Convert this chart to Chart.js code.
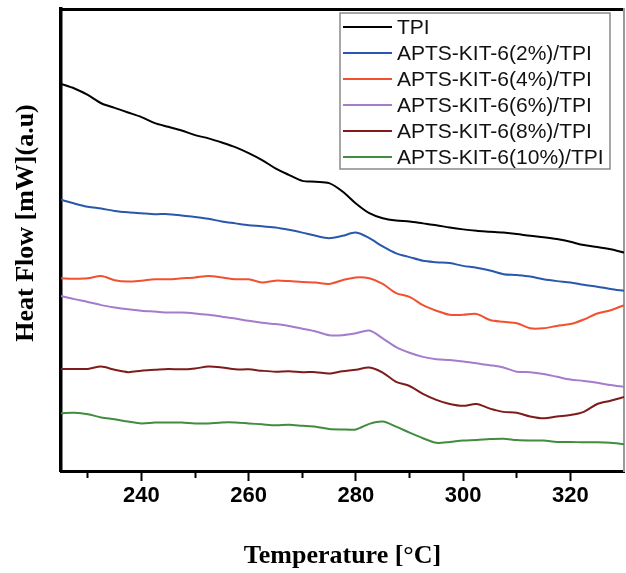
<!DOCTYPE html>
<html>
<head>
<meta charset="utf-8">
<title>DSC - TPI / APTS-KIT-6</title>
<script src="https://cdn.jsdelivr.net/npm/chart.js@4.4.1/dist/chart.umd.min.js"></script>
<style>
  html, body { margin: 0; padding: 0; background: #fff; }
  canvas { display: block; }
</style>
</head>
<body>
<canvas id="chart-dsc" width="626" height="573"></canvas>
<script>
// DSC curves (heat flow, arbitrary units, offset per sample) vs temperature

const temperaturas = [
  225, 227.5, 230, 232.5, 235, 237.5, 240, 242.5, 245, 247.5,
  250, 252.5, 255, 257.5, 260, 262.5, 265, 267.5, 270, 272.5,
  275, 277.5, 280, 282.5, 285, 287.5, 290, 292.5, 295, 297.5,
  300, 302.5, 305, 307.5, 310, 312.5, 315, 317.5, 320, 322.5,
  325, 327.5, 330
];

const fluxoTPI = [
  83.8, 82.8, 81.4, 79.6, 78.6, 77.6, 76.6, 75.3, 74.5, 73.7,
  72.7, 72.0, 71.1, 70.1, 68.8, 67.3, 65.5, 64.1, 62.8, 62.6,
  62.3, 60.5, 57.9, 55.8, 54.7, 54.2, 54.0, 53.6, 53.2, 52.7,
  52.3, 52.0, 51.8, 51.6, 51.3, 50.9, 50.6, 50.2, 49.6, 48.9,
  48.5, 48.0, 47.3
];

const fluxo2 = [
  58.7, 57.9, 57.2, 56.8, 56.3, 56.0, 55.8, 55.6, 55.6, 55.3,
  55.0, 54.6, 54.0, 53.6, 53.2, 53.0, 52.7, 52.2, 51.6, 50.9,
  50.4, 50.9, 51.6, 50.4, 48.6, 47.1, 46.3, 45.5, 45.2, 45.0,
  44.4, 44.0, 43.4, 42.6, 42.4, 42.1, 41.5, 41.1, 40.8, 40.3,
  39.9, 39.4, 39.0
];

const fluxo4 = [
  41.7, 41.6, 41.7, 42.2, 41.3, 41.0, 41.2, 41.5, 41.5, 41.7,
  41.9, 42.2, 41.9, 41.5, 41.5, 40.8, 41.2, 41.1, 40.9, 40.8,
  40.5, 41.3, 41.9, 41.7, 40.5, 38.5, 37.7, 35.9, 34.7, 33.8,
  33.8, 34.0, 32.7, 32.3, 32.0, 30.9, 30.9, 31.4, 31.8, 32.8,
  34.1, 34.8, 35.9
];

const fluxo6 = [
  37.9, 37.2, 36.6, 35.9, 35.4, 35.0, 34.7, 34.5, 34.3, 34.3,
  34.1, 33.8, 33.4, 33.0, 32.5, 32.1, 31.8, 31.4, 30.8, 30.2,
  29.4, 29.4, 29.8, 30.4, 28.7, 26.8, 25.6, 24.7, 24.2, 24.0,
  23.7, 23.3, 22.9, 22.4, 21.5, 21.4, 21.0, 20.4, 19.8, 19.5,
  19.1, 18.6, 18.2
];

const fluxo8 = [
  22.1, 22.1, 22.1, 22.6, 21.9, 21.4, 21.7, 21.9, 22.1, 22.0,
  22.2, 22.6, 22.4, 22.0, 22.0, 21.7, 21.5, 21.6, 21.4, 21.4,
  21.1, 21.6, 21.9, 22.4, 21.3, 19.3, 18.4, 16.7, 15.4, 14.5,
  14.1, 14.5, 13.5, 12.8, 12.6, 11.8, 11.4, 11.8, 12.1, 12.8,
  14.5, 15.2, 16.0
];

const fluxo10 = [
  12.5, 12.6, 12.3, 11.6, 11.2, 10.7, 10.3, 10.5, 10.5, 10.5,
  10.3, 10.3, 10.5, 10.5, 10.3, 10.1, 9.9, 10.0, 9.8, 9.6,
  9.1, 9.0, 9.0, 10.2, 10.7, 9.6, 8.3, 7.1, 6.1, 6.3,
  6.6, 6.7, 6.9, 7.0, 6.7, 6.6, 6.6, 6.3, 6.3, 6.2,
  6.2, 6.1, 5.8
];

const nomes = [
  "TPI",
  "APTS-KIT-6(2%)/TPI",
  "APTS-KIT-6(4%)/TPI",
  "APTS-KIT-6(6%)/TPI",
  "APTS-KIT-6(8%)/TPI",
  "APTS-KIT-6(10%)/TPI"
];
const series = [fluxoTPI, fluxo2, fluxo4, fluxo6, fluxo8, fluxo10];
const cores = ["#000000", "#2857ad", "#f2502e", "#a47ccb", "#7d1c1a", "#418c3e"];

const tituloX = "Temperature [°C]";
const tituloY = "Heat Flow [mW](a.u)";

function montarDatasets() {
  return series.map((valores, i) => ({
    label: nomes[i],
    data: temperaturas.map((t, k) => ({ x: t, y: valores[k] })),
    borderColor: cores[i],
    backgroundColor: cores[i],
    borderWidth: 2,
    pointRadius: 0,
    tension: 0.3,
    fill: false,
    xAxisID: "x",
    yAxisID: "y"
  }));
}

// legend box in the upper right of the plot, one line sample per series
const legendaCaixa = {
  id: "legendaCaixa",
  afterDraw(chart) {
    const ctx = chart.ctx;
    const area = chart.chartArea;
    const esq = area.left + 279;
    const topo = area.top + 4;
    const larg = 270;
    const alt = 156;
    const passo = 26;

    ctx.save();
    ctx.fillStyle = "#fff";
    ctx.fillRect(esq, topo, larg, alt);
    ctx.strokeStyle = "#8a8a8a";
    ctx.lineWidth = 1.5;
    ctx.strokeRect(esq, topo, larg, alt);

    ctx.font = '21px "Liberation Sans", Arial, sans-serif';
    ctx.textBaseline = "middle";
    ctx.textAlign = "left";
    chart.data.datasets.forEach((ds, i) => {
      const y = topo + 14 + i * passo;
      ctx.strokeStyle = ds.borderColor;
      ctx.lineWidth = 2;
      ctx.beginPath();
      ctx.moveTo(esq + 3, y);
      ctx.lineTo(esq + 52, y);
      ctx.stroke();
      ctx.fillStyle = "#111";
      ctx.fillText(ds.label, esq + 57, y + 1);
    });
    ctx.restore();
  }
};

// rotated y title, sits slightly above the middle of the axis
const tituloEixoY = {
  id: "tituloEixoY",
  afterDraw(chart) {
    const ctx = chart.ctx;
    const area = chart.chartArea;
    ctx.save();
    ctx.translate(26, (area.top + area.bottom) / 2 - 17);
    ctx.rotate(-Math.PI / 2);
    ctx.font = 'bold 26px "Liberation Serif", "Times New Roman", serif';
    ctx.fillStyle = "#000";
    ctx.textAlign = "center";
    ctx.textBaseline = "middle";
    ctx.fillText(tituloY, 0, 0);
    ctx.restore();
  }
};

function gerarGraficoDSC() {
  const ctx = document.getElementById("chart-dsc").getContext("2d");
  Chart.defaults.color = "#000";

  new Chart(ctx, {
    type: "line",
    data: { datasets: montarDatasets() },
    options: {
      responsive: false,
      devicePixelRatio: 1,
      animation: false,
      layout: { padding: { top: 9, right: 0, bottom: 0, left: 0 } },
      plugins: {
        legend: { display: false },
        tooltip: { enabled: false }
      },
      scales: {
        x: {
          type: "linear",
          position: "bottom",
          min: 225,
          max: 330,
          afterFit: (scale) => { scale.height = 102; },
          ticks: {
            stepSize: 10,
            includeBounds: false,
            autoSkip: false,
            maxRotation: 0,
            padding: 2,
            font: { family: '"Liberation Sans", Arial, sans-serif', size: 22, weight: "bold" },
            color: "#000",
            callback: (v) => (v % 20 === 0 ? v : "")
          },
          grid: {
            drawOnChartArea: false,
            drawTicks: true,
            tickLength: 10,
            tickWidth: 2,
            tickColor: (c) => (c.tick && c.tick.value >= 330 ? "rgba(0,0,0,0)" : "#000"),
            // minor ticks (every 10) are half as long as the labelled ones
            tickBorderDash: (c) => (c.tick && c.tick.value % 20 !== 0 ? [5, 30] : [])
          },
          border: { display: true, color: "#000", width: 3 },
          title: {
            display: true,
            text: tituloX,
            color: "#000",
            font: { family: '"Liberation Serif", "Times New Roman", serif', size: 26, weight: "bold", lineHeight: 1 },
            padding: { top: 0, bottom: 4 }
          }
        },
        xTop: {
          type: "linear",
          position: "top",
          min: 225,
          max: 330,
          afterFit: (scale) => { scale.height = 0; },
          ticks: { display: false },
          grid: { display: false },
          border: { display: true, color: "#000", width: 3 }
        },
        y: {
          type: "linear",
          position: "left",
          min: 0,
          max: 100,
          afterFit: (scale) => { scale.width = 61; },
          ticks: { display: false },
          grid: { display: false },
          border: { display: true, color: "#000", width: 3.5 }
        },
        yRight: {
          type: "linear",
          position: "right",
          min: 0,
          max: 100,
          afterFit: (scale) => { scale.width = 0; },
          ticks: { display: false },
          grid: { display: false },
          border: { display: true, color: "#9a9a9a", width: 2 }
        }
      }
    },
    plugins: [legendaCaixa, tituloEixoY]
  });
}

window.addEventListener("load", gerarGraficoDSC);
</script>
</body>
</html>
